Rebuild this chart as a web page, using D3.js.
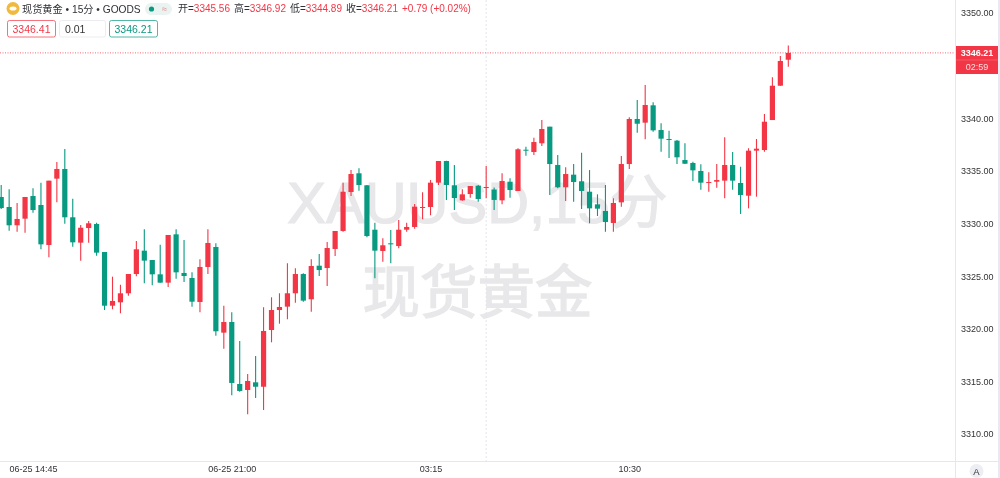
<!DOCTYPE html>
<html><head><meta charset="utf-8">
<script src="https://cdn.jsdelivr.net/npm/d3@7/dist/d3.min.js"></script>
<style>
html,body{margin:0;padding:0;background:#fff;overflow:hidden}
svg{display:block;filter:blur(0.4px)}
text{font-family:"Liberation Sans","Noto Sans CJK SC",sans-serif}
</style></head><body>
<svg id="c" width="1000" height="478"></svg>
<script>
const opens=[3332.52,3331.57,3329.83,3330.46,3332.61,3331.76,3327.96,3334.26,3335.18,3330.59,3328.18,3329.57,3329.95,3327.29,3322.19,3322.51,3323.37,3325.20,3327.42,3326.53,3325.17,3324.38,3328.97,3325.30,3324.82,3322.54,3325.87,3327.77,3319.63,3320.64,3314.75,3314.18,3314.91,3314.49,3319.88,3321.78,3322.10,3323.37,3325.20,3322.80,3325.99,3325.77,3327.58,3329.29,3332.99,3334.77,3333.63,3329.41,3327.39,3328.12,3327.86,3329.41,3329.67,3331.50,3331.57,3333.88,3335.94,3333.63,3332.20,3332.80,3333.59,3333.37,3333.23,3332.20,3333.97,3333.09,3337.01,3336.79,3337.62,3339.20,3335.56,3333.44,3334.64,3334.01,3333.02,3331.82,3331.19,3330.05,3332.01,3335.65,3339.93,3339.58,3341.23,3338.88,3338.03,3337.87,3336.03,3335.75,3334.99,3333.85,3333.97,3334.07,3335.56,3333.85,3332.64,3336.92,3336.98,3339.83,3343.09,3345.56];
const highs=[3333.66,3333.25,3331.95,3332.52,3333.35,3333.88,3334.07,3335.84,3337.08,3332.36,3329.86,3330.24,3330.08,3327.29,3324.95,3324.18,3325.20,3328.34,3329.45,3326.53,3327.99,3328.91,3329.45,3328.43,3325.36,3326.60,3329.45,3328.12,3322.19,3321.56,3318.84,3315.70,3317.41,3322.04,3322.99,3323.37,3326.22,3325.74,3325.27,3326.60,3327.10,3328.24,3329.29,3333.88,3335.08,3335.25,3333.66,3330.08,3328.59,3329.38,3330.33,3330.08,3331.85,3332.96,3334.13,3335.94,3335.97,3335.56,3333.25,3333.56,3333.66,3335.46,3333.42,3334.77,3334.29,3337.15,3337.30,3338.15,3339.83,3339.20,3336.51,3335.34,3335.65,3336.73,3335.08,3332.77,3333.66,3332.39,3336.41,3340.09,3341.73,3343.16,3341.52,3339.52,3338.82,3337.93,3337.62,3335.87,3335.62,3334.87,3335.65,3338.19,3336.79,3335.40,3337.15,3338.03,3340.40,3343.89,3345.91,3346.92];
const lows=[3331.38,3329.32,3329.22,3329.13,3331.03,3327.55,3326.79,3332.01,3329.98,3327.80,3326.47,3328.18,3326.94,3321.78,3321.85,3321.47,3323.14,3324.98,3324.32,3324.13,3324.38,3323.97,3324.76,3324.44,3322.10,3321.56,3325.20,3319.34,3318.11,3313.68,3314.02,3311.87,3313.42,3312.28,3318.71,3320.48,3320.90,3322.48,3322.57,3321.62,3325.01,3324.06,3326.91,3329.22,3332.61,3333.12,3328.69,3324.79,3326.37,3326.22,3327.64,3329.22,3329.51,3330.40,3330.78,3333.66,3332.24,3331.28,3332.17,3332.45,3332.07,3332.39,3331.28,3331.82,3332.45,3333.09,3336.44,3336.51,3337.36,3332.71,3333.35,3332.14,3332.07,3331.38,3330.02,3330.71,3329.22,3329.22,3331.60,3335.18,3338.63,3338.00,3338.72,3336.82,3336.22,3335.65,3335.65,3334.04,3333.21,3333.02,3333.40,3332.39,3333.21,3330.90,3331.44,3332.55,3336.82,3339.83,3343.09,3344.89];
const closes=[3331.47,3329.83,3330.43,3332.52,3331.28,3328.02,3334.07,3335.18,3330.59,3328.21,3329.60,3330.02,3327.23,3322.19,3322.64,3323.37,3325.20,3327.55,3326.47,3325.17,3324.38,3328.91,3325.36,3325.01,3322.57,3325.87,3328.15,3319.76,3320.64,3314.85,3314.09,3315.04,3314.49,3319.79,3321.78,3322.07,3323.37,3325.20,3322.67,3325.96,3325.58,3327.67,3329.29,3333.02,3334.70,3333.66,3328.81,3327.42,3327.93,3328.02,3329.41,3329.67,3331.60,3331.57,3333.88,3335.94,3333.66,3332.42,3332.77,3333.56,3332.33,3333.47,3332.24,3334.04,3333.18,3337.05,3336.92,3337.74,3338.98,3335.65,3333.44,3334.70,3333.94,3333.09,3331.44,3331.41,3330.14,3331.95,3335.65,3339.93,3339.48,3341.26,3338.85,3338.06,3337.96,3336.29,3335.68,3335.05,3333.88,3333.94,3334.13,3335.56,3334.07,3332.71,3336.92,3337.11,3339.67,3343.09,3345.44,3346.21];
const priceTicks=[3350,3340,3335,3330,3325,3320,3315,3310];
const timeTickBars=[4,29,54,79];
const timeTickLabels=["06-25 14:45","06-25 21:00","03:15","10:30"];
const sessionBreakBar=61;
const lastPrice=3346.21;
const watermark=["XAUUSD,15分","现货黄金"];
const headerTitle="现货黄金 • 15分 • GOODS";
const ohlcLabels=[["开=","3345.56"],["高=","3346.92"],["低=","3344.89"],["收=","3346.21"]];
const changeLabel="+0.79 (+0.02%)";
const chips=["3346.41","0.01","3346.21"];
const countdown="02:59";

const UP="#f23645",DOWN="#089981",GRID="#e6e7ec",TXT="#333";
const svg=d3.select("#c");
const y=d3.scaleLinear().domain([3310,3350]).range([434,13]);
const x=d3.scaleLinear().domain([0,99]).range([1.2,788.3]);

// watermark
svg.append("text").attr("x",477.5).attr("y",223).attr("text-anchor","middle").attr("font-size",58).attr("fill","#e8e8ea").attr("stroke","#e8e8ea").attr("stroke-width",1.2).text(watermark[0]);
svg.append("text").attr("x",477.5).attr("y",313).attr("text-anchor","middle").attr("font-size",57.5).attr("fill","#e8e8ea").attr("stroke","#e8e8ea").attr("stroke-width",1.4).text(watermark[1]);

// session break
svg.append("line").attr("x1",x(sessionBreakBar)).attr("x2",x(sessionBreakBar)).attr("y1",0).attr("y2",461)
  .attr("stroke","#e3e5ea").attr("stroke-dasharray","2 2");

// frame
svg.append("line").attr("x1",0).attr("x2",998).attr("y1",461.5).attr("y2",461.5).attr("stroke",GRID);
svg.append("line").attr("x1",955.5).attr("x2",955.5).attr("y1",0).attr("y2",478).attr("stroke",GRID);
svg.append("rect").attr("x",998).attr("y",0).attr("width",2).attr("height",478).attr("fill","#e9e9f3");

// last price line
svg.append("line").attr("x1",0).attr("x2",955).attr("y1",y(lastPrice)).attr("y2",y(lastPrice))
  .attr("stroke",UP).attr("stroke-opacity",.75).attr("stroke-dasharray","1 1.5");

// candles
const data=opens.map((o,i)=>({i,o,h:highs[i],l:lows[i],c:closes[i]}));
const g=svg.selectAll("g.k").data(data).join("g").attr("class","k")
  .attr("fill",d=>d.c>=d.o?UP:DOWN).attr("stroke",d=>d.c>=d.o?UP:DOWN);
g.append("line").attr("x1",d=>x(d.i)).attr("x2",d=>x(d.i)).attr("y1",d=>y(d.h)).attr("y2",d=>y(d.l)).attr("stroke-width",1.1);
g.append("rect").attr("stroke","none").attr("x",d=>x(d.i)-2.6).attr("width",5.2)
  .attr("y",d=>y(Math.max(d.o,d.c))).attr("height",d=>Math.max(1,Math.abs(y(d.o)-y(d.c))));

// axes
const ay=d3.axisRight(y).tickValues(priceTicks).tickSize(0).tickPadding(0).tickFormat(d3.format(".2f"));
const ga=svg.append("g").attr("transform","translate(961,0)").call(ay);
ga.select(".domain").remove();
ga.selectAll("text").attr("font-size",9).attr("fill",TXT).style("font-family",'"Liberation Sans",sans-serif');
const ax=d3.axisBottom(x).tickValues(timeTickBars).tickSize(0).tickPadding(0).tickFormat((d,i)=>timeTickLabels[i]);
const gx=svg.append("g").attr("transform","translate(0,466)").call(ax);
gx.select(".domain").remove();
gx.selectAll("text").attr("font-size",9).attr("fill",TXT).style("font-family",'"Liberation Sans",sans-serif');

// price tag
svg.append("rect").attr("x",956).attr("y",46).attr("width",42).attr("height",28).attr("fill",UP);
svg.append("line").attr("x1",956).attr("x2",998).attr("y1",60).attr("y2",60).attr("stroke","#f7727e").attr("stroke-width",.6);
svg.append("text").attr("x",977).attr("y",56).attr("text-anchor","middle").attr("font-size",9).attr("font-weight",700).attr("fill","#fff").text(lastPrice.toFixed(2));
svg.append("text").attr("x",977).attr("y",70).attr("text-anchor","middle").attr("font-size",9).attr("fill","#fdd").text(countdown);

// auto button
svg.append("circle").attr("cx",976.5).attr("cy",471).attr("r",7).attr("fill","#eceef3");
svg.append("text").attr("x",976.5).attr("y",474.5).attr("text-anchor","middle").attr("font-size",9.5).attr("fill","#333").text("A");

// header
svg.append("circle").attr("cx",13).attr("cy",8.5).attr("r",6.5).attr("fill","#f0b93f");
svg.append("ellipse").attr("cx",13).attr("cy",8.5).attr("rx",3.5).attr("ry",2).attr("fill","#fff");
svg.append("text").attr("x",22).attr("y",12.5).attr("font-size",10.2).attr("fill","#2f3136").text(headerTitle);
svg.append("rect").attr("x",145).attr("y",3).attr("width",27).attr("height",12).attr("rx",6).attr("fill","#e9f3f1");
svg.append("circle").attr("cx",151.5).attr("cy",9).attr("r",2.6).attr("fill",DOWN);
svg.append("text").attr("x",164.5).attr("y",12).attr("text-anchor","middle").attr("font-size",9).attr("fill","#e58a8a").text("≈");
const ox=[178,234,290,346];
ohlcLabels.forEach((p,i)=>{
  const t=svg.append("text").attr("x",ox[i]).attr("y",12).attr("font-size",10);
  t.append("tspan").attr("fill","#2f3136").text(p[0]);
  t.append("tspan").attr("fill",UP).text(p[1]);
});
svg.append("text").attr("x",402).attr("y",12).attr("font-size",10).attr("fill",UP).text(changeLabel);

// chips
const chipBox=[[7.5,48,UP,UP],[59.5,46,"#e4e5ea","#333"],[109.5,48,DOWN,DOWN]];
chips.forEach((c,i)=>{
  const [bx,bw,st,fc]=chipBox[i];
  svg.append("rect").attr("x",bx).attr("y",20.5).attr("width",bw).attr("height",16.5).attr("rx",2).attr("fill","#fff").attr("stroke",st).attr("stroke-opacity",.7);
  svg.append("text").attr("x",i===1?65:bx+bw/2).attr("y",32.5).attr("text-anchor",i===1?"start":"middle").attr("font-size",10.5).attr("fill",fc).text(c);
});
</script>
</body></html>
